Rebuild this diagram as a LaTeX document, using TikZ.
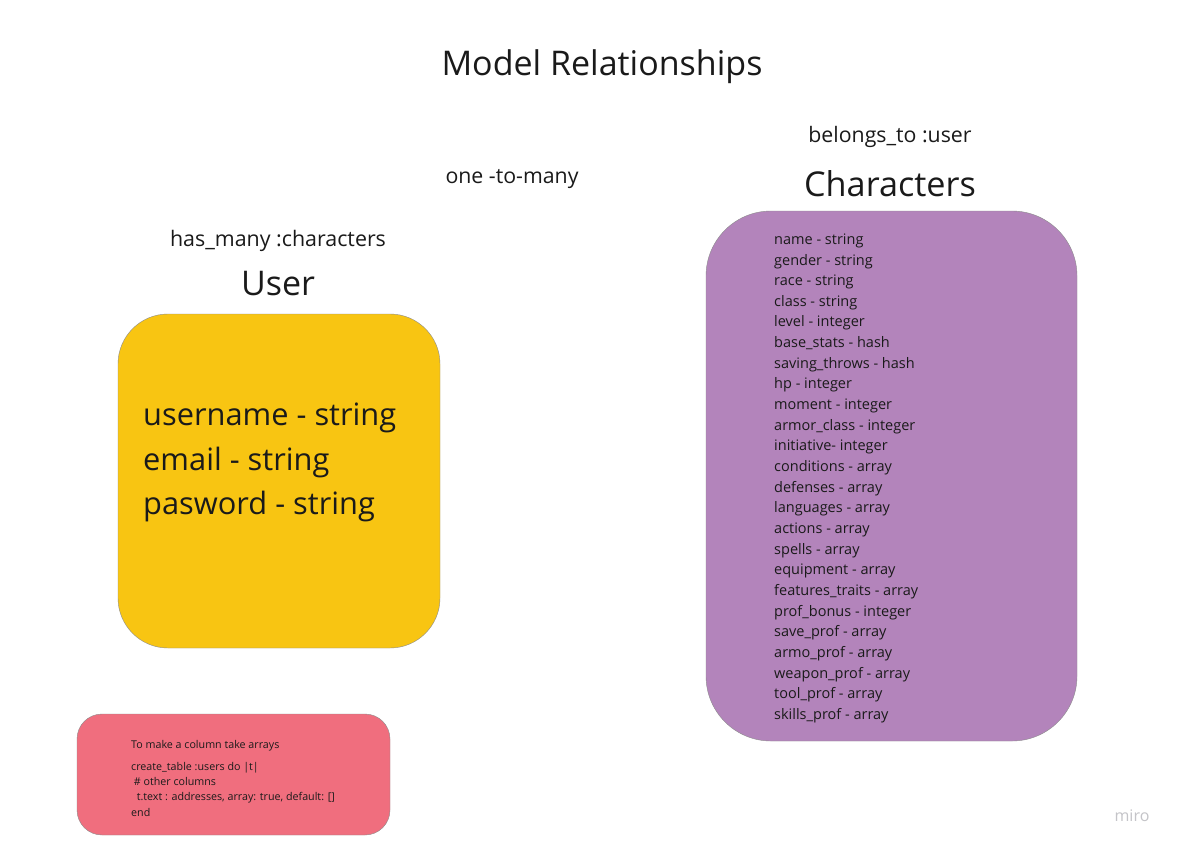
\documentclass[tikz,border=0pt]{standalone}
\usepackage{fontspec}
\setmainfont{Open Sans}
\definecolor{useryellow}{HTML}{F8C512}
\definecolor{charpurple}{HTML}{B384BB}
\definecolor{notepink}{HTML}{F06E7E}
\definecolor{txt}{HTML}{1A1A1A}
\definecolor{miroGray}{HTML}{C4C4C8}
\tikzset{
  card/.style={draw=black!45, line width=0.4pt},
  lbl/.style={inner sep=0pt, text=txt},
}
\begin{document}
\begin{tikzpicture}[x=1pt,y=-1pt]
\useasboundingbox[fill=white] (0,0) rectangle (1177,849);
% boxes
\draw[card, fill=useryellow, rounded corners=50] (118,314) rectangle (440,648);
\draw[card, fill=charpurple, rounded corners=65] (706,211) rectangle (1077,741);
\draw[card, fill=notepink, rounded corners=25] (77,714) rectangle (390,835);
% headings
\node[lbl, font=\fontsize{34}{40}\selectfont] (title) at (602,67) {Model Relationships};
\node[lbl, font=\fontsize{21.4}{24}\selectfont] (hasmany) at (278,241) {has\_many :characters};
\node[lbl, font=\fontsize{34}{38}\selectfont] (user) at (278,284) {User};
\node[lbl, font=\fontsize{21.3}{24}\selectfont] (otm) at (512,179) {one -to-many};
\node[lbl, font=\fontsize{21.3}{24}\selectfont] (belongs) at (890,137) {belongs\_to :user};
\node[lbl, font=\fontsize{34.2}{42}\selectfont] (chars) at (890,184) {Characters};
% user fields
\node[lbl, anchor=north west, align=left, font=\fontsize{30.8}{44.5}\selectfont] (ufields) at (143,403)
{username - string\\email - string\\pasword - string};
% character fields
\node[lbl, anchor=north west, align=left, font=\fontsize{14.5}{20.65}\selectfont] (cfields) at (774,233.5)
{name - string\\gender - string\\race - string\\class - string\\level - integer\\base\_stats - hash\\saving\_throws - hash\\hp - integer\\moment - integer\\armor\_class - integer\\initiative- integer\\conditions - array\\defenses - array\\languages - array\\actions - array\\spells - array\\equipment - array\\features\_traits - array\\prof\_bonus - integer\\save\_prof - array\\armo\_prof - array\\weapon\_prof - array\\tool\_prof - array\\skills\_prof - array};
% note
\node[lbl, anchor=north west, align=left, font=\fontsize{10.7}{15.3}\selectfont] (note1) at (131,740) {To make a column take arrays};
\node[lbl, anchor=north west, align=left, font=\fontsize{10.7}{15.3}\selectfont] (note2) at (131,762)
{create\_table :users do |t|\\\ \# other columns\\\ \ t.text : addresses, array: true, default: []\\end};
% logo
\node[lbl, text=miroGray, font=\fontsize{16}{18}\selectfont] (miro) at (1132,816) {miro};
\end{tikzpicture}
\end{document}
